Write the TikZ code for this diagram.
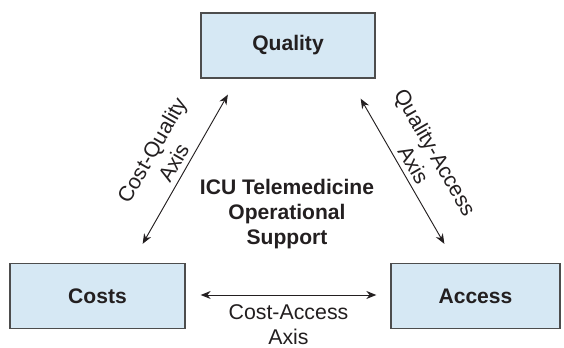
\documentclass[tikz,border=0pt]{standalone}
\usepackage{fontspec}
\setmainfont{Liberation Sans}
\usetikzlibrary{calc,arrows.meta}
\definecolor{boxfill}{RGB}{214,232,244}
\definecolor{boxline}{RGB}{77,77,77}
\definecolor{ink}{RGB}{35,31,32}
\begin{document}
\begin{tikzpicture}[x=0.75pt,y=-0.75pt,
  every node/.style={text=ink},
  dimbox/.style={draw=boxline, line width=1pt, fill=boxfill, inner sep=0pt,
    font=\fontsize{15.8}{18.75}\selectfont\bfseries, minimum height=48.75pt},
  axis/.style={draw=ink, line width=0.7pt,
    {Stealth[length=7.5pt,width=6pt]}-{Stealth[length=7.5pt,width=6pt]}},
  axislabel/.style={font=\fontsize{16}{18.75}\selectfont, align=center, inner sep=0pt},
  corelabel/.style={font=\fontsize{15.8}{18.75}\selectfont\bfseries, align=center, inner sep=0pt}]
\useasboundingbox (0,0) rectangle (564,348);

% the three dimensions
\node[dimbox, minimum width=130.5pt]  (quality) at (288,45.5) {Quality};
\node[dimbox, minimum width=131.25pt] (costs)   at (97.5,296) {Costs};
\node[dimbox, minimum width=126.75pt] (access)  at (475.5,296) {Access};

% centre label
\node[corelabel] (core) at (287,214) {ICU Telemedicine\\Operational\\Support};

% axes between the dimensions
\draw[axis] ($(costs.north east)+(-43,-19)$) -- ($(quality.south west)+(27.5,16)$)
  node[axislabel, midway, sloped, above=4pt] (cqlabel) {Cost-Quality\\Axis};
\draw[axis] ($(quality.south east)+(-15,20)$) -- ($(access.north west)+(54,-19)$)
  node[axislabel, midway, sloped, above=3.5pt] (qalabel) {Quality-Access\\Axis};
\draw[axis] ($(costs.east)+(15,-1)$) -- ($(access.west)+(-14,-1)$)
  node[axislabel, midway, below=7pt] (calabel) {Cost-Access\\Axis};
\end{tikzpicture}
\end{document}
